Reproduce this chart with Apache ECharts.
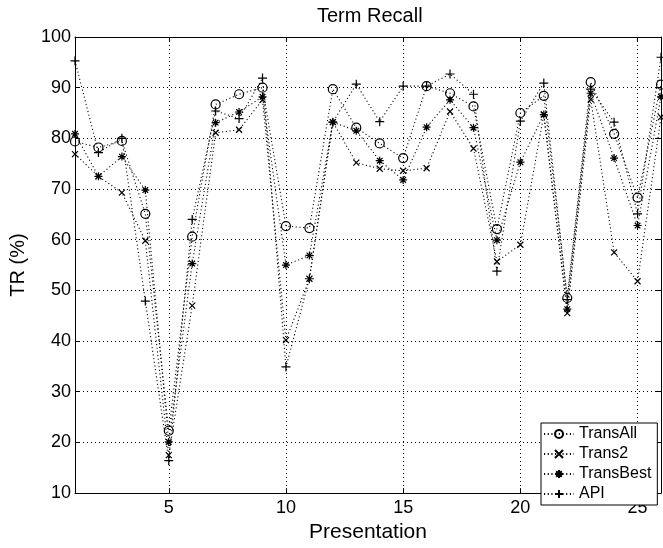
<!DOCTYPE html>
<html>
<head>
<meta charset="utf-8">
<script src="https://cdn.jsdelivr.net/npm/echarts@6/dist/echarts.min.js"></script>
<style>
  html, body { margin: 0; padding: 0; background: #fff; }
  #chart { width: 663px; height: 548px; }
</style>
</head>
<body>
<div id="chart"></div>
<script>
// presentation index 1..26
var presentations = [1, 2, 3, 4, 5, 6, 7, 8, 9, 10, 11, 12, 13, 14, 15, 16, 17, 18, 19, 20, 21, 22, 23, 24, 25, 26]
var transAll = [79.4, 78.2, 79.5, 65.1, 22.3, 60.6, 86.7, 88.7, 90.0, 62.7, 62.3, 89.7, 82.1, 79.0, 76.1, 90.3, 88.9, 86.3, 62.1, 85.0, 88.4, 48.5, 91.1, 80.9, 68.3, 90.6]
var trans2 = [76.9, 72.5, 69.3, 59.8, 17.5, 47.0, 81.1, 81.7, 87.6, 40.2, 52.3, 83.2, 75.2, 74.0, 73.6, 74.1, 85.3, 78.0, 55.7, 59.0, 84.7, 45.5, 87.7, 57.5, 51.8, 84.2]
var transBest = [80.9, 72.5, 76.4, 69.8, 20.1, 55.3, 83.1, 85.2, 88.2, 55.0, 56.9, 83.2, 81.5, 75.6, 71.8, 82.2, 87.6, 82.1, 59.9, 75.3, 84.7, 46.3, 88.9, 76.1, 62.8, 88.2]
var api = [95.3, 77.2, 80.0, 47.9, 16.4, 64.0, 85.4, 83.9, 91.9, 34.9, 52.3, 83.2, 90.7, 83.3, 90.3, 90.3, 92.7, 88.7, 53.8, 83.4, 90.9, 48.2, 89.7, 83.2, 65.1, 96.0]
var xTicks = [5, 10, 15, 20, 25]

var font = 'Liberation Sans, Arial, sans-serif'

function pairs (ys) {
  return presentations.map(function (x, i) { return [x, ys[i]] })
}

// marker shapes (stroked paths, no fill)
var circlePath = 'path://M10,5A5,5 0 1,1 0,5A5,5 0 1,1 10,5Z'
var crossPath = 'path://M0,0L10,10M10,0L0,10'
var starPath = 'path://M5,0L5,10M0,5L10,5M1.5,1.5L8.5,8.5M8.5,1.5L1.5,8.5'
var plusPath = 'path://M5,0L5,10M0,5L10,5'

function makeSeries (name, ys, symbol, size) {
  return {
    name: name,
    type: 'line',
    data: pairs(ys),
    symbol: symbol,
    symbolSize: size,
    showAllSymbol: true,
    lineStyle: { color: '#000', width: 1.1, type: [1.1, 2.6] },
    itemStyle: { color: 'rgba(0,0,0,0)', borderColor: '#000', borderWidth: 1.2 },
    emphasis: { disabled: true },
    animation: false
  }
}

var myChart = echarts.init(document.getElementById('chart'))
myChart.setOption({
  backgroundColor: '#fff',
  title: {
    text: 'Term Recall',
    left: 312,
    top: 1,
    textStyle: { fontFamily: font, fontSize: 20, fontWeight: 'normal', color: '#000' }
  },
  legend: {
    orient: 'vertical',
    left: 541,
    top: 423,
    padding: [3, 6, 3, 2],
    itemGap: 4,
    itemWidth: 30,
    itemHeight: 10,
    borderColor: '#000',
    borderWidth: 1,
    backgroundColor: '#fff',
    textStyle: { fontFamily: font, fontSize: 16, color: '#000' },
    data: ['TransAll', 'Trans2', 'TransBest', 'API']
  },
  grid: { left: 75, right: 2, top: 37, bottom: 46 },
  xAxis: [{
    type: 'value',
    min: 1,
    max: 26,
    name: 'Presentation',
    nameLocation: 'middle',
    nameGap: 24,
    nameTextStyle: { fontFamily: font, fontSize: 21, color: '#000' },
    axisLine: { lineStyle: { color: '#000', width: 1 } },
    axisTick: { inside: true, length: 5, customValues: xTicks, lineStyle: { color: '#000' } },
    axisLabel: { customValues: xTicks, margin: 6, fontFamily: font, fontSize: 18, color: '#000' },
    splitLine: { show: true, lineStyle: { color: '#000', width: 1, type: [1, 3] } }
  }, {
    type: 'value',
    position: 'top',
    min: 1,
    max: 26,
    axisLine: { lineStyle: { color: '#000', width: 1 } },
    axisTick: { inside: true, length: 5, customValues: xTicks, lineStyle: { color: '#000' } },
    axisLabel: { show: false },
    splitLine: { show: false }
  }],
  yAxis: [{
    type: 'value',
    min: 10,
    max: 100,
    interval: 10,
    name: 'TR (%)',
    nameLocation: 'middle',
    nameGap: 47,
    nameTextStyle: { fontFamily: font, fontSize: 20, color: '#000' },
    axisLine: { show: true, lineStyle: { color: '#000', width: 1 } },
    axisTick: { show: true, inside: true, length: 5, lineStyle: { color: '#000' } },
    axisLabel: { margin: 4, fontFamily: font, fontSize: 18, color: '#000' },
    splitLine: { show: true, lineStyle: { color: '#000', width: 1, type: [1, 3] } }
  }, {
    type: 'value',
    position: 'right',
    min: 10,
    max: 100,
    interval: 10,
    axisLine: { show: true, lineStyle: { color: '#000', width: 1 } },
    axisTick: { show: true, inside: true, length: 5, lineStyle: { color: '#000' } },
    axisLabel: { show: false },
    splitLine: { show: false }
  }],
  series: [
    makeSeries('TransAll', transAll, circlePath, 9),
    makeSeries('Trans2', trans2, crossPath, 6),
    makeSeries('TransBest', transBest, starPath, 8),
    makeSeries('API', api, plusPath, 9)
  ]
})
</script>
</body>
</html>
